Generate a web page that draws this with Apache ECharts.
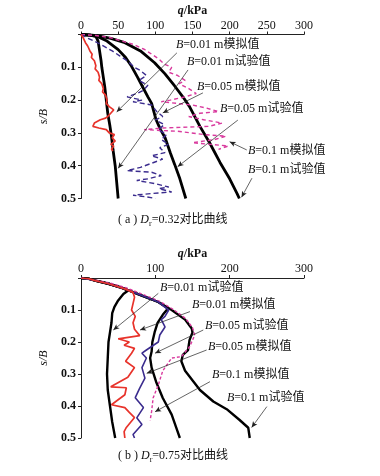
<!DOCTYPE html>
<html><head><meta charset="utf-8">
<script src="https://cdn.jsdelivr.net/npm/echarts@6/dist/echarts.min.js"></script>
<style>html,body{margin:0;padding:0;background:#fff}#c{width:380px;height:476px}</style>
</head><body><div id="c"></div>
<script>
// ---------- data (q in kPa, s/B) ----------
const xTicksTop = [0, 50, 100, 150, 200, 250, 300];
const xTicksBottom = [0, 100, 200, 300];
const yTicks = [0.1, 0.2, 0.3, 0.4, 0.5];

// (a) Dr = 0.32
const a_black001 = [[0,0],[12,0.002],[20,0.006],[23,0.02],[25,0.05],[27,0.08],[28,0.1],[30,0.13],[32,0.16],[34,0.2],[36,0.24],[39,0.28],[41,0.31],[43,0.35],[46,0.4],[48,0.45],[50,0.5]];
const a_red001 = [[0,0],[3,0.01],[6,0.025],[9,0.035],[12,0.05],[15,0.06],[14,0.07],[18,0.08],[20,0.095],[19,0.105],[23,0.115],[25,0.13],[24,0.14],[28,0.15],[30,0.165],[29,0.175],[33,0.185],[35,0.2],[34,0.21],[38,0.22],[44,0.23],[40,0.24],[36,0.25],[33,0.255],[26,0.26],[18,0.27],[16,0.28],[24,0.285],[34,0.29],[38,0.3],[45,0.305],[42,0.315],[46,0.325],[40,0.335],[44,0.34],[41,0.35],[43,0.355]];
const a_black005 = [[0,0],[12,0.002],[22,0.006],[35,0.02],[50,0.046],[60,0.07],[68,0.097],[76,0.13],[83,0.16],[90,0.19],[95,0.21],[101,0.26],[107,0.29],[113,0.314],[120,0.36],[126,0.396],[133,0.44],[141,0.5]];
const a_blue005 = [[0,0],[8,0.01],[18,0.02],[30,0.035],[42,0.05],[52,0.065],[62,0.08],[72,0.1],[80,0.11],[88,0.125],[78,0.14],[90,0.155],[84,0.17],[75,0.18],[62,0.19],[82,0.2],[70,0.205],[95,0.215],[102,0.235],[110,0.25],[100,0.26],[112,0.275],[104,0.29],[115,0.305],[108,0.32],[118,0.335],[106,0.345],[113,0.36],[95,0.37],[110,0.38],[80,0.405],[62,0.415],[95,0.42],[108,0.43],[90,0.44],[75,0.445],[100,0.455],[118,0.465],[105,0.47],[122,0.48],[95,0.485],[70,0.49],[88,0.495],[100,0.5]];
const a_black01 = [[0,0],[15,0.002],[25,0.005],[40,0.012],[59,0.025],[80,0.05],[99,0.086],[113,0.12],[126,0.157],[137,0.19],[146,0.22],[160,0.28],[173,0.33],[187,0.39],[200,0.44],[210,0.485],[213,0.5]];
const a_mag01 = [[0,0],[20,0.003],[40,0.01],[55,0.02],[70,0.03],[85,0.045],[95,0.06],[105,0.075],[112,0.09],[122,0.1],[118,0.115],[130,0.125],[140,0.14],[132,0.15],[145,0.165],[155,0.18],[140,0.19],[120,0.2],[108,0.205],[150,0.215],[170,0.225],[185,0.235],[160,0.24],[145,0.25],[165,0.26],[190,0.27],[172,0.28],[110,0.285],[85,0.29],[130,0.295],[165,0.305],[195,0.31],[180,0.32],[150,0.33],[175,0.335],[198,0.34],[185,0.35]];

// (b) Dr = 0.75
const b_black001 = [[0,0],[10,0.002],[19,0.008],[37,0.018],[55,0.03],[63,0.04],[57,0.05],[50,0.07],[45,0.09],[42,0.11],[41,0.14],[39,0.17],[37,0.2],[36,0.25],[35,0.3],[36,0.35],[39,0.4],[42,0.45],[46,0.5]];
const b_red001 = [[0,0],[10,0.002],[19,0.008],[37,0.018],[59,0.034],[70,0.045],[72,0.06],[70,0.08],[68,0.1],[73,0.12],[70,0.14],[72,0.16],[79,0.18],[50,0.19],[65,0.2],[58,0.21],[72,0.22],[68,0.235],[60,0.26],[72,0.28],[63,0.31],[40,0.34],[61,0.343],[59,0.365],[41,0.396],[59,0.405],[65,0.42],[72,0.436],[61,0.467],[58,0.48],[59,0.5]];
const b_black005 = [[0,0],[10,0.002],[19,0.008],[37,0.018],[59,0.034],[81,0.054],[104,0.075],[117,0.095],[110,0.115],[103,0.14],[99,0.17],[96,0.2],[95,0.23],[93,0.25],[95,0.28],[101,0.324],[110,0.375],[122,0.427],[128,0.467],[133,0.5]];
const b_blue005 = [[0,0],[19,0.008],[37,0.018],[59,0.034],[81,0.054],[104,0.075],[118,0.1],[113,0.12],[108,0.13],[113,0.153],[106,0.178],[104,0.2],[88,0.225],[82,0.235],[88,0.25],[82,0.28],[86,0.313],[79,0.344],[73,0.374],[84,0.405],[75,0.437],[82,0.458],[70,0.489],[72,0.5]];
const b_black01 = [[0,0],[10,0.002],[19,0.008],[37,0.018],[59,0.034],[81,0.054],[104,0.075],[122,0.1],[140,0.13],[149,0.158],[150,0.17],[146,0.194],[144,0.225],[137,0.24],[135,0.26],[140,0.29],[146,0.308],[160,0.35],[178,0.386],[196,0.41],[213,0.443],[225,0.468],[227,0.5]];
const b_mag01 = [[0,0],[19,0.006],[38,0.015],[60,0.03],[82,0.05],[105,0.072],[124,0.098],[141,0.127],[150,0.155],[153,0.179],[146,0.215],[135,0.246],[122,0.25],[110,0.29],[104,0.334],[97,0.375],[95,0.417],[93,0.445]];

// annotation texts and arrows (from -> to, in data units)
const a_labels = ['0.01 m模拟值','0.01 m试验值','0.05 m模拟值','0.05 m试验值','0.1 m模拟值','0.1 m试验值'];
const a_arrows = [[[129,0.056],[48,0.236]],[[144,0.108],[50,0.408]],[[164,0.178],[110,0.239]],[[211,0.261],[130,0.403]],[[223,0.352],[200,0.327]],[[230,0.438],[216,0.496]]];
const b_labels = ['0.01 m试验值','0.01 m模拟值','0.05 m试验值','0.05 m模拟值','0.1 m模拟值','0.1 m试验值'];
const b_arrows = [[[104,0.048],[43.5,0.1625]],[[146.6,0.105],[79.4,0.1625]],[[164.5,0.1625],[99.6,0.235]],[[169,0.225],[88.4,0.298]],[[173.5,0.324],[99.6,0.418]],[[250,0.402],[229.6,0.467]]];

// ---------- styling / layout ----------
const SERIF = '"Liberation Serif","Noto Sans CJK SC",serif';
const aLabelPos = [[176,47],[187,64],[197,89],[220,111],[248,153],[248,172]];
const bLabelPos = [[160,290],[192,307],[205,328],[208,349],[212,377],[227,400]];
const RED = '#e8332b', BLUE = '#3b2c8e', MAG = '#d93a9e';

const chart = echarts.init(document.getElementById('c'));

function xAx(gi, interval){
  return {gridIndex: gi, type:'value', position:'top', min:0, max:300, interval: interval,
    name:'{i|q}{n|/kPa}', nameLocation:'middle', nameGap: 18,
    nameTextStyle:{rich:{
      i:{fontFamily:SERIF, fontSize:12, color:'#111', fontStyle:'italic', fontWeight:'bold'},
      n:{fontFamily:SERIF, fontSize:12, color:'#111', fontWeight:'bold'}}},
    axisLine:{show:true, lineStyle:{color:'#222', width:1}},
    axisTick:{show:true, length:3, lineStyle:{color:'#222'}},
    axisLabel:{fontFamily:SERIF, fontSize:12, color:'#111', margin:3},
    splitLine:{show:false}};
}
function yAx(gi){
  return {gridIndex: gi, type:'value', inverse:true, min:0, max:0.5, interval:0.1,
    name:'s/B', nameLocation:'middle', nameGap: 20,
    nameTextStyle:{fontFamily:SERIF, fontSize:12, color:'#111', fontStyle:'italic'},
    axisLine:{show:true, lineStyle:{color:'#222', width:1}},
    axisTick:{show:true, length:3, lineStyle:{color:'#222'}},
    axisLabel:{fontFamily:SERIF, fontSize:12, color:'#111', fontWeight:'bold', margin:5,
      formatter: v => (v === 0 ? '' : v.toFixed(1))},
    splitLine:{show:false}};
}
function ln(gi, data, color, width, type){
  return {type:'line', xAxisIndex:gi, yAxisIndex:gi, data:data, showSymbol:false, symbol:'none',
    smooth:false, silent:true, animation:false,
    lineStyle:{color:color, width:width, type:type||'solid'}, z: color==='#000'?3:4};
}
function arrows(gi, list){
  return {type:'line', xAxisIndex:gi, yAxisIndex:gi, data:[], silent:true, animation:false,
    markLine:{silent:true, animation:false, symbol:['none','arrow'], symbolSize:[4,6],
      label:{show:false}, lineStyle:{color:'#222', width:0.7, type:'solid'},
      data: list.map(p => [{coord:p[0]},{coord:p[1]}])}};
}
function labelGraphics(texts, pos){
  return texts.map((t,i) => ({type:'text', left:pos[i][0], top:pos[i][1]-8, silent:true,
    style:{text:'{i|B}{n|=' + t + '}', rich:{
      i:{fontFamily:SERIF, fontStyle:'italic', fontSize:12, fill:'#111'},
      n:{fontFamily:SERIF, fontSize:12, fill:'#111'}}}}));
}
function caption(letter, dr, y){
  return {type:'text', left:118, top:y-8, silent:true,
    style:{text:'{n|( ' + letter + ' ) }{i|D}{s|r}{n|=' + dr + '对比曲线}', rich:{
      n:{fontFamily:SERIF, fontSize:12, fill:'#111', height:16},
      i:{fontFamily:SERIF, fontStyle:'italic', fontSize:12, fill:'#111', height:16},
      s:{fontFamily:SERIF, fontSize:8, fill:'#111', verticalAlign:'bottom', padding:[6,0,0,0]}}}};
}

chart.setOption({
  animation:false,
  grid:[{left:81, top:34.5, width:223, height:164},
        {left:81, top:278, width:223, height:160}],
  xAxis:[xAx(0,50), xAx(1,100)],
  yAxis:[yAx(0), yAx(1)],
  series:[
    ln(0, a_mag01, MAG, 1.4, [4,3]),
    ln(0, a_blue005, BLUE, 1.4, [5,3]),
    ln(0, a_red001, RED, 1.7),
    ln(0, a_black001, '#000', 2.8),
    ln(0, a_black005, '#000', 2.8),
    ln(0, a_black01, '#000', 2.8),
    ln(1, b_black001, '#000', 2.4),
    ln(1, b_black005, '#000', 2.4),
    ln(1, b_black01, '#000', 2.4),
    ln(1, b_mag01, MAG, 1.4, [3,2]),
    ln(1, b_blue005, BLUE, 1.6),
    ln(1, b_red001, RED, 1.7),
    arrows(0, a_arrows),
    arrows(1, b_arrows)
  ],
  graphic: [].concat(labelGraphics(a_labels, aLabelPos), labelGraphics(b_labels, bLabelPos),
    [caption('a','0.32',222), caption('b','0.75',458)])
});
</script></body></html>
